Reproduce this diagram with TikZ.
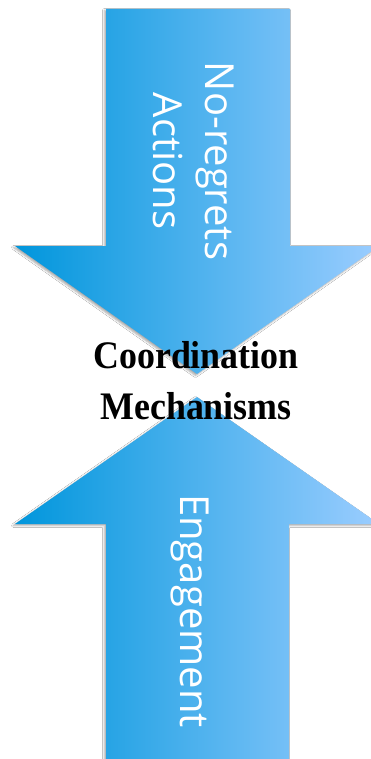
\documentclass[tikz,border=0pt]{standalone}
\usepackage{fontspec}
\setmainfont{Liberation Serif}
\newfontfamily\labelfont{Open Sans}
\usetikzlibrary{shadows.blur}
\definecolor{arrowleft}{RGB}{0,150,220}
\definecolor{arrowright}{RGB}{155,205,255}
\tikzset{
  bigarrow/.style={left color=arrowleft, right color=arrowright, draw=none,
    blur shadow={shadow xshift=-1.5pt, shadow yshift=-1.5pt, shadow blur radius=2pt, shadow opacity=35}},
  arrowtext/.style={text=white, font=\labelfont\fontsize{40}{52}\selectfont, rotate=-90, align=center, inner sep=0pt},
  centertext/.style={text=black, font=\bfseries\fontsize{39}{51}\selectfont, align=center, inner sep=0pt, xscale=0.92}
}
\begin{document}
\begin{tikzpicture}[x=1pt,y=-1pt]
\useasboundingbox (0,0) rectangle (371,759);
\clip (0,0) rectangle (371,759);
\fill[white] (0,0) rectangle (371,759);
% top arrow (pointing down)
\path[bigarrow] (106,9) -- (290,9) -- (290,246) -- (379,246) -- (197,374) -- (15,246) -- (106,246) -- cycle;
% bottom arrow (pointing up)
\path[bigarrow] (197,397) -- (379,524) -- (289,524) -- (289,775) -- (106,775) -- (106,524) -- (15,524) -- cycle;
\node[arrowtext] (top) at (194,161) {No-regrets\\Actions};
\node[arrowtext] (bottom) at (190,611) {Engagement};
\node[centertext] (mid) at (196,381) {Coordination\\Mechanisms};
\end{tikzpicture}
\end{document}
